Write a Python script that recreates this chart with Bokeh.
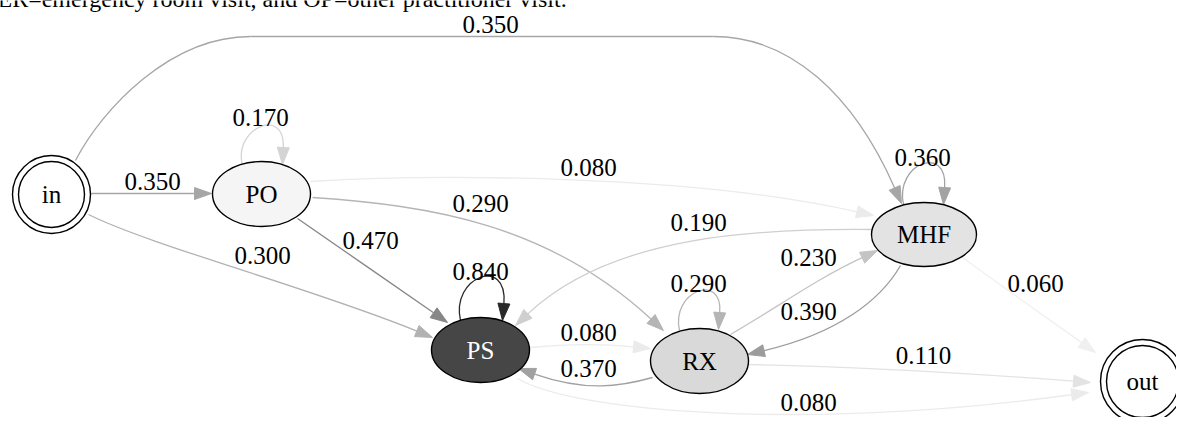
import numpy as np
from bokeh.plotting import figure
from bokeh.models import Range1d, ColumnDataSource
from bokeh.embed import file_html
from bokeh.resources import INLINE
from bokeh.core.properties import value

# ---------------- data ----------------
caption = "ER=emergency room visit, and OP=other practitioner visit."
node_names = ["in", "PO", "PS", "RX", "MHF", "out"]
edge_src = ["in", "in", "in", "PO", "PO", "PO", "PO", "PS", "PS", "RX", "RX", "MHF", "RX", "MHF", "RX", "PS", "MHF", "MHF"]
edge_dst = ["PO", "MHF", "PS", "PO", "MHF", "RX", "PS", "PS", "RX", "PS", "RX", "PS", "MHF", "RX", "out", "out", "out", "MHF"]
edge_prob = [0.350, 0.350, 0.300, 0.170, 0.080, 0.290, 0.470, 0.840, 0.080, 0.370, 0.290, 0.190, 0.230, 0.390, 0.110, 0.080, 0.060, 0.360]

# ---------------- layout (pixel space of the drawing) ----------------
node_x = [51, 261, 480, 699, 923.5, 1142]
node_y = [194, 193.5, 349.5, 360.5, 234, 381]
node_w = [78, 98, 98, 98, 105, 84]
node_h = [78, 65, 65, 65, 64, 84]
node_fill = ["white", "#f4f5f4", "#464646", "#d9d9d9", "#e3e3e3", "white"]
node_text_color = ["black", "black", "white", "black", "black", "black"]
double_ring = [True, False, False, False, False, True]
ring_gap = 6

# edge routes: chains of cubic bezier segments, last point = arrow tip
edge_routes = [
    [[(90, 193), (130, 193), (170, 193), (211, 193)]],
    [[(75, 160), (102, 108), (170, 36), (250, 36)],
     [(250, 36), (400, 36), (560, 36), (713, 36)],
     [(713, 36), (790, 36), (860, 110), (901, 203)]],
    [[(88, 214), (150, 245), (330, 295), (432, 337)]],
    [[(242, 165), (232, 128), (284, 122), (282, 164)]],
    [[(310, 181), (420, 174), (700, 176), (873, 215)]],
    [[(312, 197), (430, 205), (560, 235), (663, 330)]],
    [[(297, 218), (347, 253), (397, 287), (447, 322)]],
    [[(460, 320), (450, 276), (506, 272), (502, 320)]],
    [[(529, 347), (560, 344), (610, 344), (650, 348)]],
    [[(652, 377), (620, 386), (570, 386), (518, 368)]],
    [[(679, 330), (670, 291), (721, 288), (718, 329)]],
    [[(871, 229), (760, 228), (600, 245), (515, 325)]],
    [[(730, 334), (780, 305), (830, 272), (877, 250)]],
    [[(900, 265), (880, 300), (820, 337), (747, 354)]],
    [[(748, 364), (850, 366), (1000, 375), (1090, 382)]],
    [[(517, 378), (575, 412), (820, 428), (1088, 392)]],
    [[(962, 257), (1006, 289), (1050, 320), (1095, 352)]],
    [[(903, 204), (894, 163), (946, 160), (943, 204)]],
]
label_x = [152, 490, 262, 260, 588, 480, 370, 480, 588, 588, 698, 698, 808, 808, 923, 808, 1035, 922]
label_y = [181, 24, 255, 117, 167, 203, 240, 271, 332, 368, 283, 222, 257, 311, 355, 402, 283, 157]

ARROW_LEN = 17
ARROW_HALF = 6
FONT = value("Liberation Serif")


def gray(w):
    g = int(round(255 * (1 - w)))
    return "#%02x%02x%02x" % (g, g, g)


# ---------------- figure ----------------
p = figure(width=1176, height=417, x_range=Range1d(0, 1176), y_range=Range1d(417, 0),
           x_axis_type=None, y_axis_type=None, toolbar_location=None,
           output_backend="svg", min_border=0)
p.outline_line_color = None
p.grid.visible = False
p.background_fill_color = "white"
p.border_fill_color = "white"

bz = dict(x0=[], y0=[], x1=[], y1=[], cx0=[], cy0=[], cx1=[], cy1=[], color=[])
tri = dict(xs=[], ys=[], color=[])
for route, w in zip(edge_routes, edge_prob):
    col = gray(w)
    last = route[-1]
    p2 = np.array(last[2], float)
    p3 = np.array(last[3], float)
    d = p3 - p2
    d /= np.linalg.norm(d)
    base = p3 - ARROW_LEN * d
    shift = base - p3
    segs = route[:-1] + [[last[0], last[1], tuple(p2 + shift), tuple(base)]]
    for s in segs:
        bz["x0"].append(s[0][0]); bz["y0"].append(s[0][1])
        bz["cx0"].append(s[1][0]); bz["cy0"].append(s[1][1])
        bz["cx1"].append(s[2][0]); bz["cy1"].append(s[2][1])
        bz["x1"].append(s[3][0]); bz["y1"].append(s[3][1])
        bz["color"].append(col)
    perp = np.array([-d[1], d[0]])
    a = base + ARROW_HALF * perp
    b = base - ARROW_HALF * perp
    tri["xs"].append([p3[0], a[0], b[0]])
    tri["ys"].append([p3[1], a[1], b[1]])
    tri["color"].append(col)

p.bezier(x0="x0", y0="y0", x1="x1", y1="y1", cx0="cx0", cy0="cy0", cx1="cx1", cy1="cy1",
         line_color="color", line_width=1.3, source=ColumnDataSource(bz))
p.patches(xs="xs", ys="ys", fill_color="color", line_color="color", line_width=1,
          source=ColumnDataSource(tri))

nodes = ColumnDataSource(dict(x=node_x, y=node_y, w=node_w, h=node_h, fill=node_fill,
                              name=node_names, tc=node_text_color))
p.ellipse(x="x", y="y", width="w", height="h", fill_color="fill", line_color="black",
          line_width=1.4, source=nodes)
ix = [i for i, d in enumerate(double_ring) if d]
p.ellipse(x=[node_x[i] for i in ix], y=[node_y[i] for i in ix],
          width=[node_w[i] - 2 * ring_gap for i in ix], height=[node_h[i] - 2 * ring_gap for i in ix],
          fill_color=None, line_color="black", line_width=1.4)

p.text(x="x", y="y", text="name", text_color="tc", text_font=FONT, text_font_size="25px",
       text_align="center", text_baseline="middle", source=nodes)

labels = ColumnDataSource(dict(x=label_x, y=label_y, t=["%.3f" % v for v in edge_prob]))
p.text(x="x", y="y", text="t", text_color="black", text_font=FONT, text_font_size="25px",
       text_align="center", text_baseline="middle", source=labels)

p.text(x=[-3], y=[-2], text=[caption], text_color="black", text_font=FONT,
       text_font_size="24px", text_align="left", text_baseline="alphabetic")

open("out.html", "w").write(file_html(p, INLINE))
